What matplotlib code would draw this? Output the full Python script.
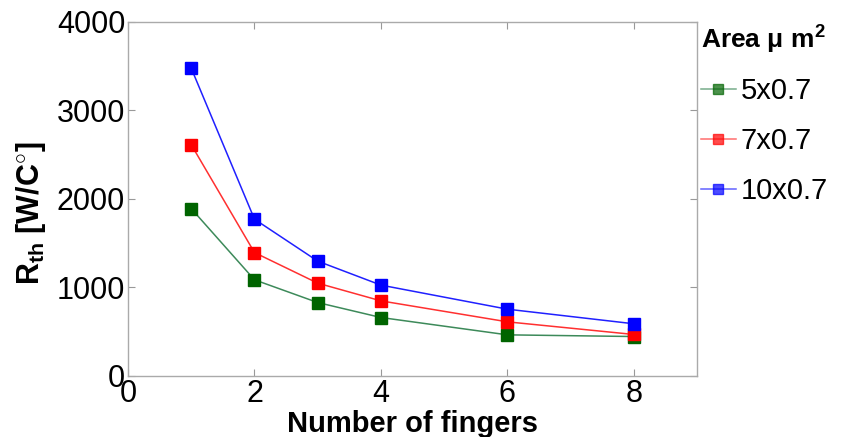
import matplotlib
matplotlib.use("Agg")
import matplotlib.pyplot as plt

plt.rcParams["font.family"] = ["Liberation Sans", "DejaVu Sans"]
plt.rcParams["mathtext.fontset"] = "custom"
plt.rcParams["mathtext.rm"] = "Liberation Sans"
plt.rcParams["mathtext.bf"] = "Liberation Sans:bold"

fingers = [1, 2, 3, 4, 6, 8]
rth_5x07 = [1890, 1085, 828, 659, 463, 444]
rth_7x07 = [2612, 1393, 1047, 847, 610, 467]
rth_10x07 = [3476, 1770, 1296, 1025, 753, 588]
labels = ["5x0.7", "7x0.7", "10x0.7"]
colors = ["#006400", "#ff0000", "#0000ff"]
line_colors = ["#3d8a5a", "#ff3030", "#2020ff"]

fig = plt.figure(figsize=(8.42, 4.37), dpi=100)
ax = fig.add_axes([0.152, 0.140, 0.676, 0.810])

for ys, lab, c, lc in zip([rth_5x07, rth_7x07, rth_10x07], labels, colors, line_colors):
    ax.plot(fingers, ys, "-", color=lc, lw=1.1, marker="s", markersize=8,
            markerfacecolor=c, markeredgecolor=c, label=lab)

ax.set_xlim(0, 9)
ax.set_ylim(0, 4000)
ax.set_xticks([0, 2, 4, 6, 8])
ax.set_yticks([0, 1000, 2000, 3000, 4000])
ax.tick_params(axis="both", direction="in", labelsize=22, length=5,
               color="#999999", top=True, right=True, pad=2)
for s in ax.spines.values():
    s.set_color("#aaaaaa")
    s.set_linewidth(1.0)

ax.set_xlabel("Number of fingers", fontsize=21, fontweight="bold", labelpad=1)
ax.set_ylabel(r"$\mathbf{R_{th}}$ [W/C$^{\circ}$]", fontsize=22,
              fontweight="bold")
ax.yaxis.set_label_coords(-0.14, 0.46)

leg = ax.legend(loc="upper left", bbox_to_anchor=(0.829, 0.955),
                bbox_transform=fig.transFigure, frameon=False, fontsize=21,
                title=r"Area $\mathbf{\mu}$ m$^{\mathbf{2}}$", handlelength=1.2,
                handletextpad=0.15, labelspacing=0.75, borderaxespad=0,
                borderpad=0.1, markerscale=0.9)
leg.get_title().set_fontsize(19)
leg.get_title().set_fontweight("bold")
leg._legend_box.align = "left"
for h in leg.legend_handles:
    h.set_alpha(0.7)

fig.savefig("out.png", dpi=100)
